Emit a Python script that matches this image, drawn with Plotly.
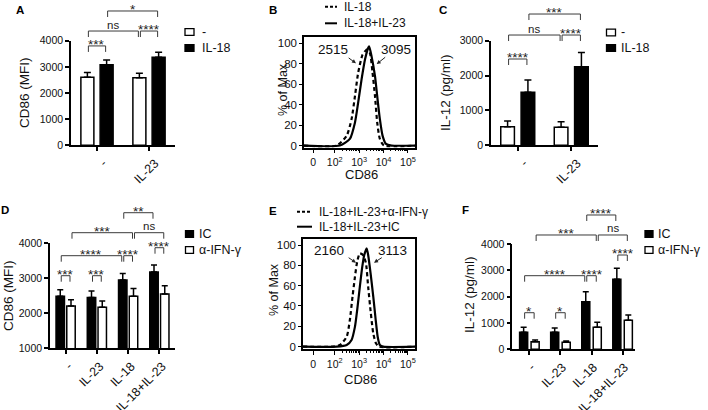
import math
import plotly.graph_objects as go

W, H = 708, 410
FONT = "Liberation Sans, Arial, Helvetica, sans-serif"

# ------------------------- data -------------------------
A_cats = ["-", "IL-23"]
A_ctrl = [2600, 2580]
A_ctrl_err = [180, 180]
A_il18 = [3080, 3370]
A_il18_err = [180, 190]

C_cats = ["-", "IL-23"]
C_ctrl = [535, 516]
C_ctrl_err = [162, 162]
C_il18 = [1520, 2255]
C_il18_err = [355, 410]

D_cats = ["-", "IL-23", "IL-18", "IL-18+IL-23"]
D_ic = [2490, 2450, 2950, 3180]
D_ic_err = [180, 190, 190, 200]
D_ifn = [2210, 2170, 2490, 2550]
D_ifn_err = [180, 180, 220, 240]

F_cats = ["-", "IL-23", "IL-18", "IL-18+IL-23"]
F_ic = [650, 645, 1810, 2660]
F_ic_err = [190, 165, 380, 420]
F_ifn = [290, 265, 835, 1100]
F_ifn_err = [65, 50, 190, 200]

# histograms: x in display decades (logicle-like), y in % of max
B_solid_x = [0.74, 2.21, 2.62, 2.83, 2.96, 3.10, 3.24, 3.37, 3.41, 3.51, 3.65, 3.74, 3.85, 3.96, 4.10, 4.33, 5.29]
B_solid_y = [0, 0, 6.5, 22.6, 41.9, 64.5, 83.9, 95.2, 96.8, 87, 67.7, 48.4, 25.8, 9.7, 1.6, 0, 0]
B_dash_x = [0.74, 2.08, 2.49, 2.69, 2.83, 2.96, 3.14, 3.28, 3.31, 3.44, 3.55, 3.65, 3.74, 3.85, 4.02, 5.29]
B_dash_y = [0, 0, 9.7, 25.8, 48.4, 71, 88.7, 93, 93.5, 90.3, 71, 48.4, 22.6, 6.5, 0, 0]

E_solid_x = [0.70, 2.08, 2.49, 2.69, 2.83, 2.92, 3.03, 3.13, 3.21, 3.28, 3.31, 3.37, 3.47, 3.58, 3.68, 3.76, 3.85, 3.99, 5.29]
E_solid_y = [0, 0, 1.6, 6.6, 19.7, 36, 59, 78.7, 90.2, 95.1, 96.7, 90.2, 72.1, 49.2, 26.2, 9.8, 1.6, 0, 0]
E_dash_x = [0.70, 1.87, 2.21, 2.49, 2.62, 2.73, 2.83, 2.92, 3.03, 3.17, 3.28, 3.37, 3.48, 3.58, 3.69, 3.82, 5.29]
E_dash_y = [0, 0, 1.6, 9.8, 26.2, 49.2, 68.9, 83.6, 91.8, 89.8, 82, 59, 32.8, 13.1, 3.3, 0, 0]

B_mfi = ["2515", "3095"]
E_mfi = ["2160", "3113"]
B_names = ["IL-18", "IL-18+IL-23"]
E_names = ["IL-18+IL-23+α-IFN-γ", "IL-18+IL-23+IC"]
AC_names = ["-", "IL-18"]
DF_names = ["IC", "α-IFN-γ"]

hist_tickvals = [1.12, 2, 3, 4, 5]
hist_ticktext = ["0", "10<sup>2</sup>", "10<sup>3</sup>", "10<sup>4</sup>", "10<sup>5</sup>"]
hist_minor = [d + math.log10(k) for d in (2, 3, 4) for k in range(2, 10)]
pct_ticks = [0, 20, 40, 60, 80, 100]

# ------------------------- layout helpers -------------------------
axA = dict(x0=71, x1=175, xr=(-0.5, 1.5), yt=40.7, yb=145.3, yr=(0, 4000), w=0.25, d=0.185, cap=3.5, shift=6)
axC = dict(x0=491, x1=598, xr=(-0.5, 1.5), yt=40.7, yb=145.3, yr=(0, 3000), w=0.255, d=0.19, cap=3.5, shift=6)
axD = dict(x0=50, x1=175, xr=(-0.5, 3.5), yt=243.3, yb=348.3, yr=(1000, 4000), w=0.27, d=0.172, cap=3, shift=3)
axF = dict(x0=512.3, x1=635, xr=(-0.55, 3.4), yt=244, yb=349.3, yr=(0, 4000), w=0.26, d=0.185, cap=3, shift=2)
axB = dict(x0=304, x1=415, xr=(0.74, 5.29), yt=36.9, yb=147.6, yr=(-2, 106))
axE = dict(x0=303, x1=415, xr=(0.70, 5.29), yt=238.9, yb=349.2, yr=(-2.5, 106))


def px(x):
    return x / W


def py(y):
    return 1 - y / H


def to_pix(ax, xv, yv):
    xp = ax['x0'] + (xv - ax['xr'][0]) / (ax['xr'][1] - ax['xr'][0]) * (ax['x1'] - ax['x0'])
    yp = ax['yb'] - (yv - ax['yr'][0]) / (ax['yr'][1] - ax['yr'][0]) * (ax['yb'] - ax['yt'])
    return xp, yp


fig = go.Figure()
shapes = []
annos = []


def add_bars(ax, xa, ya, left_vals, left_err, left_fill, right_vals, right_err, right_fill):
    n = len(left_vals)
    xs = list(range(n))
    for vals, err, fill, side in ((left_vals, left_err, left_fill, -1),
                                  (right_vals, right_err, right_fill, 1)):
        fig.add_trace(go.Bar(
            x=xs, y=vals, width=ax['w'], offset=side * ax['d'] - ax['w'] / 2,
            marker=dict(color=fill, line=dict(color='black', width=1.5)),
            error_y=dict(type='data', symmetric=False, array=err, arrayminus=[0] * n,
                         color='black', thickness=1.5, width=ax['cap']),
            xaxis=xa, yaxis=ya, showlegend=False, hoverinfo='skip'))


add_bars(axA, 'x', 'y', A_ctrl, A_ctrl_err, 'white', A_il18, A_il18_err, 'black')
add_bars(axC, 'x3', 'y3', C_ctrl, C_ctrl_err, 'white', C_il18, C_il18_err, 'black')
add_bars(axD, 'x4', 'y4', D_ic, D_ic_err, 'black', D_ifn, D_ifn_err, 'white')
add_bars(axF, 'x6', 'y6', F_ic, F_ic_err, 'black', F_ifn, F_ifn_err, 'white')

# histograms
for xs, ys, dash, xa, ya in ((B_dash_x, B_dash_y, '4px,3px', 'x2', 'y2'),
                             (B_solid_x, B_solid_y, 'solid', 'x2', 'y2'),
                             (E_dash_x, E_dash_y, '4px,3px', 'x5', 'y5'),
                             (E_solid_x, E_solid_y, 'solid', 'x5', 'y5')):
    fig.add_trace(go.Scatter(x=xs, y=ys, mode='lines',
                             line=dict(color='black', width=2.2, dash=dash, shape='spline', smoothing=0.6),
                             xaxis=xa, yaxis=ya, showlegend=False, hoverinfo='skip'))


def brackets(ax, items):
    for g1, s1, g2, s2, yv, lab in items:
        xa_, yl = to_pix(ax, g1 + s1 * ax['d'], yv)
        xb_, _ = to_pix(ax, g2 + s2 * ax['d'], yv)
        xa_ += 1
        xb_ -= 1
        leg = 6
        path = "M {:.5f},{:.5f} L {:.5f},{:.5f} L {:.5f},{:.5f} L {:.5f},{:.5f}".format(
            px(xa_), py(yl + leg), px(xa_), py(yl), px(xb_), py(yl), px(xb_), py(yl + leg))
        shapes.append(dict(type='path', path=path, xref='paper', yref='paper',
                           line=dict(color='#3a3a3a', width=1)))
        if lab == 'ns':
            annos.append(dict(text=lab, x=px((xa_ + xb_) / 2), y=py(yl - 6.5), xref='paper', yref='paper',
                              showarrow=False, xanchor='center', yanchor='middle',
                              font=dict(size=11.5, color='#222')))
        else:
            annos.append(dict(text=lab, x=px((xa_ + xb_) / 2), y=py(yl - 1.5), xref='paper', yref='paper',
                              showarrow=False, xanchor='center', yanchor='middle',
                              font=dict(size=13.5, color='#222')))


brackets(axA, [(0, -1, 0, 1, 3800, '***'), (0, -1, 1, -1, 4370, 'ns'),
               (1, -1, 1, 1, 4370, '****'), (0, 1, 1, 1, 5136, '*')])
brackets(axC, [(0, -1, 0, 1, 2475, '****'), (0, -1, 1, -1, 3163, 'ns'),
               (1, -1, 1, 1, 3163, '****'), (0, 1, 1, 1, 3765, '***')])
brackets(axD, [(0, -1, 0, 1, 3074, '***'), (1, -1, 1, 1, 3074, '***'),
               (0, -1, 2, -1, 3646, '****'), (2, -1, 2, 1, 3646, '****'),
               (3, -1, 3, 1, 3874, '****'), (0, 1, 2, 1, 4303, '***'),
               (2, 1, 3, 1, 4303, 'ns'), (2, -1, 3, -1, 4874, '**')])
brackets(axF, [(0, -1, 0, 1, 1390, '*'), (1, -1, 1, 1, 1390, '*'),
               (0, -1, 2, -1, 2796, '****'), (2, -1, 2, 1, 2796, '****'),
               (3, -1, 3, 1, 3582, '****'), (0, 1, 2, 1, 4342, '***'),
               (2, 1, 3, 1, 4342, 'ns'), (2, -1, 3, -1, 5102, '****')])


# legends (boxes)
def box_legend(x0, yc1, yc2, fills, names, bw, tx):
    for yc, fill, name in zip((yc1, yc2), fills, names):
        shapes.append(dict(type='rect', xref='paper', yref='paper',
                           x0=px(x0), x1=px(x0 + bw), y0=py(yc + 3.3), y1=py(yc - 3.3),
                           fillcolor=fill, line=dict(color='black', width=1.3)))
        annos.append(dict(text=name, x=px(tx), y=py(yc), xref='paper', yref='paper', showarrow=False,
                          xanchor='left', yanchor='middle', font=dict(size=12.5, color='#111')))


box_legend(185, 32, 48, ('white', 'black'), AC_names, 9, 200)
box_legend(606.5, 32.5, 48, ('white', 'black'), AC_names, 9, 619)
box_legend(185.5, 234, 250, ('black', 'white'), DF_names, 8, 197)
box_legend(645, 234, 250, ('black', 'white'), DF_names, 8, 656)


def line_legend(x0, x1, yc1, yc2, names, tx):
    for yc, dash, name in zip((yc1, yc2), ('3px,2px', 'solid'), names):
        shapes.append(dict(type='line', xref='paper', yref='paper', x0=px(x0), x1=px(x1),
                           y0=py(yc), y1=py(yc), line=dict(color='black', width=2, dash=dash)))
        annos.append(dict(text=name, x=px(tx), y=py(yc), xref='paper', yref='paper', showarrow=False,
                          xanchor='left', yanchor='middle', font=dict(size=12, color='#111')))


line_legend(325, 337, 6.7, 23.3, B_names, 341.5)
line_legend(297, 312, 211.7, 226.7, E_names, 317)

# MFI labels and arrows on histograms
for xa, ya, labs, tpos, arrows in (
        ('x2', 'y2', B_mfi, [(1.93, 94), (4.50, 94)], [((2.87, 80.2), (2.51, 86.6)), ((3.72, 79.5), (4.13, 87.3))]),
        ('x5', 'y5', E_mfi, [(1.77, 95), (4.37, 95)], [((2.87, 82.6), (2.51, 88.5)), ((3.61, 82.6), (3.99, 88.5))])):
    for lab, (tx, ty) in zip(labs, tpos):
        annos.append(dict(text=lab, x=tx, y=ty, xref=xa, yref=ya, showarrow=False,
                          xanchor='center', yanchor='middle', font=dict(size=13.5, color='#111')))
    for (hx, hy), (tx, ty) in arrows:
        annos.append(dict(text='', x=hx, y=hy, ax=tx, ay=ty, xref=xa, yref=ya, axref=xa, ayref=ya,
                          showarrow=True, arrowhead=2, arrowsize=0.8, arrowwidth=1, arrowcolor='#222',
                          standoff=0, startstandoff=0))

# axis titles
for text, x, y, ang, size in (("CD86 (MFI)", 25, 93, -90, 13.5),
                              ("% of Max", 283, 90, -90, 12.5),
                              ("IL-12 (pg/ml)", 446, 93, -90, 13.5),
                              ("CD86 (MFI)", 8, 296, -90, 13.5),
                              ("% of Max", 274, 290, -90, 12.5),
                              ("IL-12 (pg/ml)", 469, 295, -90, 13.5),
                              ("CD86", 361.5, 174.5, 0, 13),
                              ("CD86", 360, 379, 0, 13)):
    annos.append(dict(text=text, x=px(x), y=py(y), xref='paper', yref='paper', showarrow=False,
                      textangle=ang, xanchor='center', yanchor='middle', font=dict(size=size, color='#111')))

# panel letters
for text, x, y in (("A", 20, 10), ("B", 273, 9.5), ("C", 443, 9.5),
                   ("D", 5, 210), ("E", 273, 211), ("F", 465, 210)):
    annos.append(dict(text="<b>%s</b>" % text, x=px(x), y=py(y), xref='paper', yref='paper',
                      showarrow=False, xanchor='center', yanchor='middle', font=dict(size=11.5, color='black')))

# axes
layout_axes = {}


def bar_axes(ax, cats, ytickvals):
    xa = dict(domain=[px(ax['x0']), px(ax['x1'])], range=list(ax['xr']), automargin=False,
              tickmode='array', tickvals=list(range(len(cats))), ticktext=cats, tickangle=-45,
              ticklabelshift=ax['shift'],
              showline=True, linecolor='black', linewidth=1.5, ticks='outside', ticklen=4, tickwidth=1.5,
              tickcolor='black', showgrid=False, zeroline=False, fixedrange=True,
              tickfont=dict(size=12.5, color='#111'))
    ya = dict(domain=[py(ax['yb']), py(ax['yt'])], range=list(ax['yr']), automargin=False,
              tickmode='array', tickvals=ytickvals, ticks='outside', ticklen=4, tickwidth=1.5,
              tickcolor='black', showline=True, linecolor='black', linewidth=1.5, showgrid=False,
              zeroline=False, tickfont=dict(size=10.5, color='#111'))
    return xa, ya


def hist_axes(ax):
    xa = dict(domain=[px(ax['x0']), px(ax['x1'])], range=list(ax['xr']), tickmode='array', automargin=False,
              tickvals=hist_tickvals, ticktext=hist_ticktext, ticks='outside', ticklen=4, tickwidth=1,
              tickcolor='black', showline=True, mirror=True, linecolor='black', linewidth=1.5,
              showgrid=False, zeroline=False, tickfont=dict(size=10.5, color='#111'),
              minor=dict(tickvals=hist_minor, ticks='outside', ticklen=2, tickwidth=1, tickcolor='black'))
    ya = dict(domain=[py(ax['yb']), py(ax['yt'])], range=list(ax['yr']), tickmode='array', automargin=False,
              tickvals=pct_ticks, ticks='outside', ticklen=3, tickwidth=1, tickcolor='black',
              showline=True, mirror=True, linecolor='black', linewidth=1.5, showgrid=False,
              zeroline=False, tickfont=dict(size=11.5, color='#111'))
    return xa, ya


specs = [('', axA, 'bar', A_cats, [0, 1000, 2000, 3000, 4000]),
         ('2', axB, 'hist', None, None),
         ('3', axC, 'bar', C_cats, [0, 1000, 2000, 3000]),
         ('4', axD, 'bar', D_cats, [1000, 2000, 3000, 4000]),
         ('5', axE, 'hist', None, None),
         ('6', axF, 'bar', F_cats, [0, 1000, 2000, 3000, 4000])]
for sfx, ax, kind, cats, yt in specs:
    if kind == 'bar':
        xa, ya = bar_axes(ax, cats, yt)
    else:
        xa, ya = hist_axes(ax)
    xa['anchor'] = 'y' + sfx
    ya['anchor'] = 'x' + sfx
    layout_axes['xaxis' + sfx] = xa
    layout_axes['yaxis' + sfx] = ya

fig.update_layout(width=W, height=H, margin=dict(l=0, r=0, t=0, b=0, autoexpand=False),
                  paper_bgcolor='white', plot_bgcolor='white', barmode='overlay',
                  font=dict(family=FONT, color='#111'), showlegend=False,
                  shapes=shapes, annotations=annos, **layout_axes)

fig.write_html("out.html", config={'displayModeBar': False},
               post_script="document.body.style.margin='0';document.body.style.padding='0';")
